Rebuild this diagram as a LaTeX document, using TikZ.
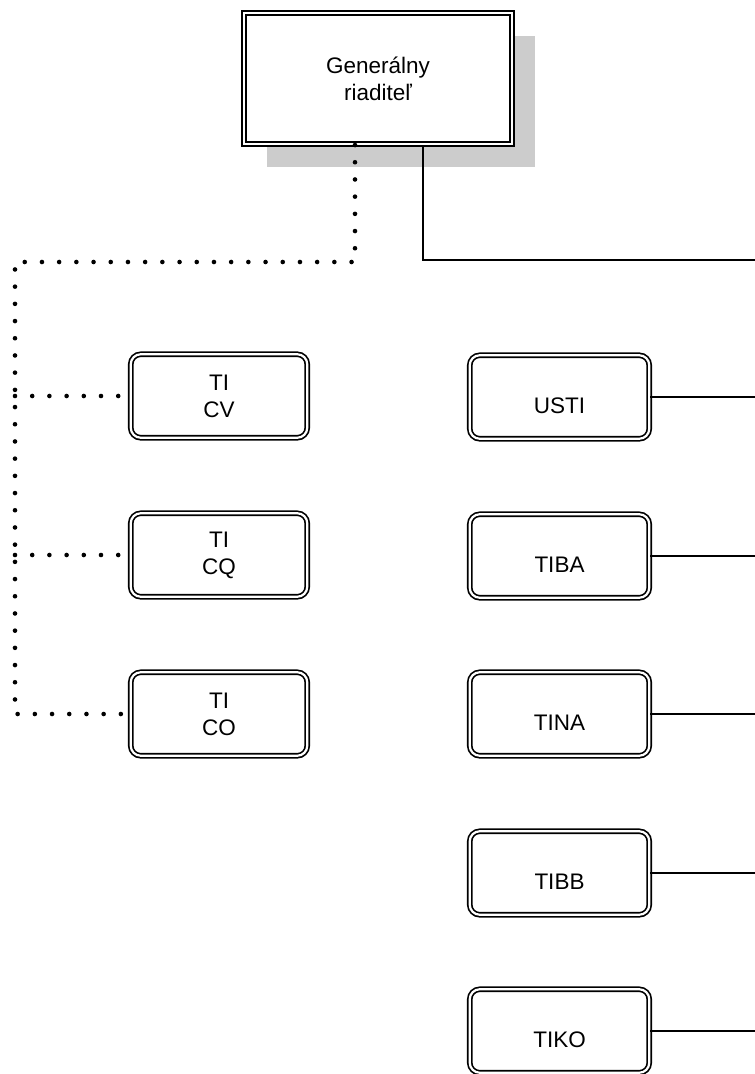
\documentclass[tikz,border=0pt]{standalone}
\usepackage{fontspec}
\setmainfont{Liberation Sans}
\usetikzlibrary{shadows}
\definecolor{shadowgray}{RGB}{204, 204, 204}
% single-line labels sit a little below the box centre
\newcommand{\sunk}[1]{\raisebox{-16pt}[0pt][0pt]{#1}}

\begin{document}
\begin{tikzpicture}[x=1pt, y=-1pt,
    every node/.style={font=\fontsize{22.5}{27}\selectfont, align=center},
    headbox/.style={draw=black, fill=white, double=white, line width=1.7pt, double distance=2.2pt, minimum width=268.4pt, minimum height=131.4pt, drop shadow={shadow xshift=23pt, shadow yshift=-23pt, fill=shadowgray, opacity=1}},
    unitbox/.style={draw=black, fill=white, double=white, line width=1.7pt, double distance=2.2pt, rounded corners=10pt, minimum width=176.5pt, minimum height=83.5pt},
    dotline/.style={line width=4.6pt, line cap=round, dash pattern=on 0pt off 17.2pt},
    solidline/.style={line width=2.3pt}]
    \useasboundingbox (0,0) rectangle (755,1074);

    % Head of the company
    \node[headbox] (gen) at (378, 78.5) {Generálny\\riaditeľ};

    % Left column, dotted reporting line
    \node[unitbox] (ticv) at (219, 396) {TI\\CV};
    \node[unitbox] (ticq) at (219, 555) {TI\\CQ};
    \node[unitbox] (tico) at (219, 714) {TI\\CO};

    % Right column, solid line
    \node[unitbox, minimum width=179.5pt] (usti) at (559.5, 397) {\sunk{USTI}};
    \node[unitbox, minimum width=179.5pt] (tiba) at (559.5, 556) {\sunk{TIBA}};
    \node[unitbox, minimum width=179.5pt] (tina) at (559.5, 714) {\sunk{TINA}};
    \node[unitbox, minimum width=179.5pt] (tibb) at (559.5, 873) {\sunk{TIBB}};
    \node[unitbox, minimum width=179.5pt] (tiko) at (559.5, 1031) {\sunk{TIKO}};

    % Bus corners
    \coordinate (lbus) at (15, 262);
    \coordinate (rbus) at (755, 260);

    % Dotted connections
    \draw[dotline] ([xshift=-23pt]gen.south) |- (lbus) -- (lbus |- tico.west) -- (tico.west);
    \draw[dotline] (lbus |- ticv.west) -- (ticv.west);
    \draw[dotline] (lbus |- ticq.west) -- (ticq.west);

    % Solid connections running off the right edge
    \draw[solidline] ([xshift=45pt]gen.south) |- (rbus);
    \draw[solidline] (usti.east) -- (usti.east -| rbus);
    \draw[solidline] (tiba.east) -- (tiba.east -| rbus);
    \draw[solidline] (tina.east) -- (tina.east -| rbus);
    \draw[solidline] (tibb.east) -- (tibb.east -| rbus);
    \draw[solidline] (tiko.east) -- (tiko.east -| rbus);
\end{tikzpicture}
\end{document}
